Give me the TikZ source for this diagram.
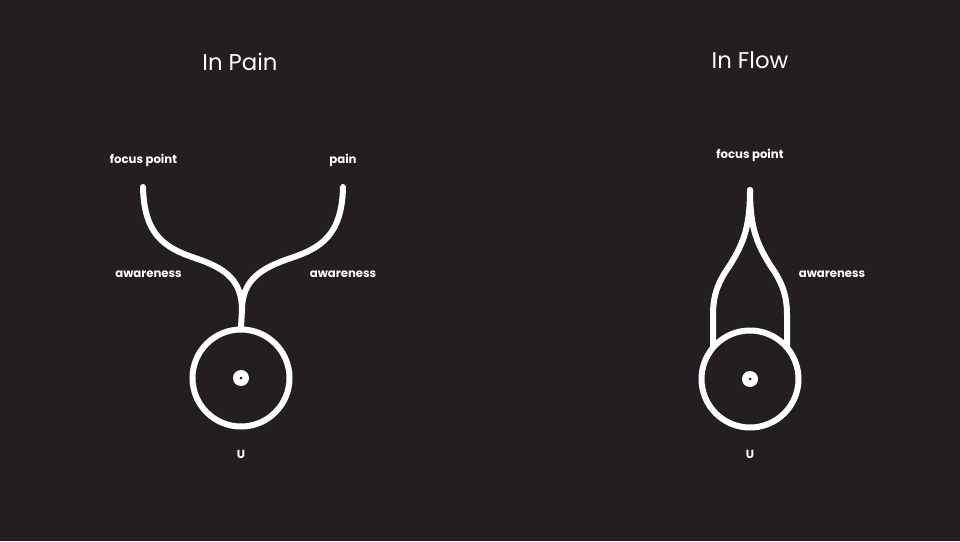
\documentclass[tikz,border=0pt]{standalone}
\usepackage{fontspec}
\setmainfont{Poppins}
\usepackage{tikz}
\usetikzlibrary{positioning}

\definecolor{bgdark}{RGB}{35,31,32}

\tikzset{
  line/.style={draw=white,line width=6pt,line cap=round,line join=round},
  ring/.style={circle,draw=white,line width=6pt,minimum size=97pt,inner sep=0pt},
  eye/.style={circle,fill=white,minimum size=16pt,inner sep=0pt},
  pupil/.style={circle,fill=bgdark,minimum size=3pt,inner sep=0pt},
  lbl/.style={text=white,font=\bfseries\fontsize{11.7}{13}\selectfont},
  ttl/.style={text=white,font=\fontsize{22.8}{26}\selectfont}
}

\begin{document}
\begin{tikzpicture}[x=1pt,y=-1pt]

\fill[bgdark] (0,0) rectangle (960,541);
\useasboundingbox (0,0) rectangle (960,541);

% in pain
\node[ttl] (TPAIN) at (240,62) {In Pain};

                    % 1
                    \node[ring] (UPAIN) at (241,378) {};
                    \node[eye] (EPAIN) at (UPAIN.center) {};
                    \node[pupil] (PPAIN) at (UPAIN.center) {};
                    \node[lbl] (NPAIN) at (241,454) {U};

                    % 2
                    \coordinate (FPPAIN) at (143,187);
                    \coordinate (PNPAIN) at (343,187);
                    \coordinate (JPAIN) at (242,310);
                    \draw[line] (FPPAIN) .. controls (144,235) and (165,248) .. (195,258)
                                .. controls (225,268) and (242,280) .. (JPAIN);
                    \draw[line] (PNPAIN) .. controls (342,235) and (321,248) .. (291,258)
                                .. controls (261,268) and (242,280) .. (JPAIN);
                    \draw[line] (JPAIN) -- (UPAIN.north);

                    % 3
                    \node[lbl] (LFPPAIN) at (143.5,160.5) {focus point};
                    \node[lbl] (LPNPAIN) at (343,160.5) {pain};
                    \node[lbl] (LAWPAIN1) at (148.5,274) {awareness};
                    \node[lbl] (LAWPAIN2) at (343,274) {awareness};


%%%%%%%%%%%%%%%%%%%%%%%%%%%%%%%%%%%%%%%%%%%%%%%%%%%%%%%%%%%%%%%%%%%%%%%%%%%%%%%%%%%%

% in flow
\node[ttl] (TFLOW) at (750,60) {In Flow};

                    % 1
                    \node[ring] (UFLOW) at (750,379) {};
                    \node[eye] (EFLOW) at (UFLOW.center) {};
                    \node[pupil] (PFLOW) at (UFLOW.center) {};
                    \node[lbl] (NFLOW) at (750,454) {U};

                    % 2
                    \coordinate (FPFLOW) at (750,190);
                    \coordinate (LFLOW) at (713,346);
                    \coordinate (RFLOW) at (787,346);
                    \draw[line] (FPFLOW) .. controls (750,230) and (742,245) .. (730,265)
                                .. controls (718,282) and (713,295) .. (713,315) -- (LFLOW);
                    \draw[line] (FPFLOW) .. controls (750,230) and (758,245) .. (770,265)
                                .. controls (782,282) and (787,295) .. (787,315) -- (RFLOW);

                    % 3
                    \node[lbl] (LFPFLOW) at (750,155) {focus point};
                    \node[lbl] (LAWFLOW) at (832,274) {awareness};

\end{tikzpicture}
\end{document}
